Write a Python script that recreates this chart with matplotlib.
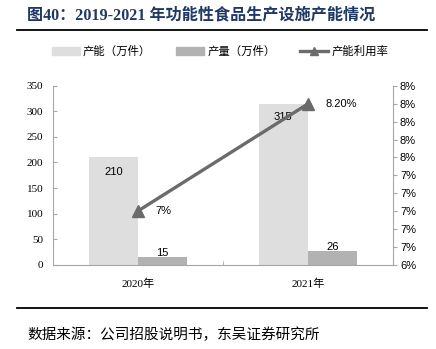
import matplotlib.pyplot as plt
from matplotlib.lines import Line2D
from matplotlib.patches import Patch

# data
years = ["2020年", "2021年"]
capacity = [210, 315]  # 产能（万件）
output = [15, 26]  # 产量（万件）
util_rate = [7.0, 8.2]  # 产能利用率 %
util_labels = ["7%", "8.20%"]

left_ticks = [0, 50, 100, 150, 200, 250, 300, 350]
right_ticks = [6.4, 6.6, 6.8, 7.0, 7.2, 7.4, 7.6, 7.8, 8.0, 8.2, 8.4]

cjk = ["Noto Sans CJK SC", "DejaVu Sans"]
serif = ["Liberation Serif", "Noto Sans CJK SC"]
sans = ["Liberation Sans", "DejaVu Sans"]

c_cap = "#dedede"
c_out = "#b2b2b2"
c_line = "#6b6b6b"
c_spine = "#a6a6a6"

fig = plt.figure(figsize=(4.36, 3.49), dpi=100)
ax = fig.add_axes([0.1216, 0.2421, 0.7798, 0.5115])

x = list(range(len(years)))
w = 0.29
ax.bar([i - w / 2 for i in x], capacity, width=w, color=c_cap)
ax.bar([i + w / 2 for i in x], output, width=w, color=c_out)

ax.set_xlim(-0.5, 1.5)
ax.set_ylim(0, 350)
ax.set_yticks(left_ticks)
ax.set_yticklabels([str(v) for v in left_ticks], family=serif, fontsize=8)
ax.tick_params(axis="y", direction="in", length=3, color=c_spine, pad=7)
ax.set_xticks(x)
ax.set_xticklabels(years, family=serif, fontsize=8)
ax.tick_params(axis="x", length=0, pad=10)
ax.set_xticks([0.5], minor=True)
ax.tick_params(axis="x", which="minor", direction="in", length=3, color=c_spine)
for s in ["top", "right"]:
    ax.spines[s].set_visible(False)
for s in ["left", "bottom"]:
    ax.spines[s].set_color(c_spine)

# bar value labels
cap_y = [182, 290]
for i, v in enumerate(capacity):
    ax.text(i - w / 2, cap_y[i], str(v), ha="center", va="center",
            family=sans, fontsize=8)
for i, v in enumerate(output):
    ax.text(i + w / 2, v + 8, str(v), ha="center", va="center",
            family=sans, fontsize=8)

ax2 = ax.twinx()
ax2.set_ylim(6.4, 8.4)
ax2.plot(x, util_rate, color=c_line, lw=2.4, marker="^", markersize=9,
         markerfacecolor=c_line, markeredgecolor=c_line)
for i, v in enumerate(util_rate):
    ax2.text(i + 0.1, v, util_labels[i], ha="left", va="center",
             family=sans, fontsize=8)
ax2.set_yticks(right_ticks)
ax2.set_yticklabels([f"{v:.0f}%" for v in right_ticks], family=sans, fontsize=8)
ax2.tick_params(axis="y", direction="out", length=3, color=c_spine, pad=2)
for s in ["top", "left", "bottom"]:
    ax2.spines[s].set_visible(False)
ax2.spines["right"].set_color(c_spine)

# legend
handles = [
    Patch(color=c_cap, label="产能（万件）"),
    Patch(color=c_out, label="产量（万件）"),
    Line2D([], [], color=c_line, lw=2.4, marker="^", markersize=6,
           label="产能利用率"),
]
fig.legend(handles=handles, loc="center", bbox_to_anchor=(0.505, 0.853),
           ncol=3, frameon=False, prop={"family": cjk, "size": 8.2},
           handlelength=2.4, handleheight=0.8, columnspacing=2.2,
           handletextpad=0.3)

# title, rules and source
fig.text(0.062, 0.955, "图40：2019-2021 年功能性食品生产设施产能情况",
         family=["Liberation Serif", "Noto Sans CJK SC"], weight="bold",
         fontsize=11.6, color="#1f3864", ha="left", va="center")
fig.add_artist(Line2D([0.039, 0.979], [0.914, 0.914], color="black", lw=1.3))
fig.add_artist(Line2D([0.039, 0.979], [0.118, 0.118], color="black", lw=1.3))
fig.text(0.062, 0.04, "数据来源：公司招股说明书，东吴证券研究所",
         family=cjk, fontsize=10.5, ha="left", va="center")

fig.savefig("out.png", dpi=100)
